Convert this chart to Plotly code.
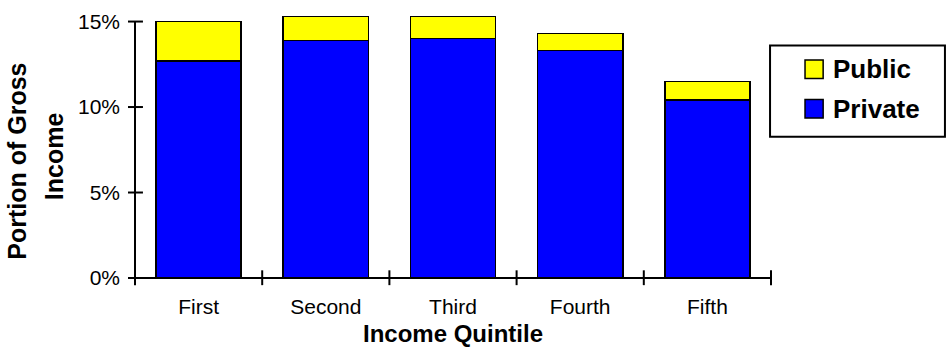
import plotly.graph_objects as go

# Income quintiles and the share of gross income, in percent
quintiles = ["First", "Second", "Third", "Fourth", "Fifth"]
private_share = [12.7, 13.9, 14.0, 13.3, 10.4]
public_share = [2.3, 1.4, 1.3, 1.0, 1.1]
y_ticks = [0, 5, 10, 15]
y_tick_text = ["0%", "5%", "10%", "15%"]

Y_RANGE = [0, 15.5]
BLUE = "#0000FF"
YELLOW = "#FFFF00"
FONT = "Liberation Sans, Arial, sans-serif"

fig = go.Figure()
fig.add_trace(go.Bar(
    x=quintiles, y=private_share, name="Private",
    marker=dict(color=BLUE, line=dict(color="black", width=1.6)),
))
fig.add_trace(go.Bar(
    x=quintiles, y=public_share, name="Public",
    marker=dict(color=YELLOW, line=dict(color="black", width=1.6)),
))


def ypaper(v):
    return (v - Y_RANGE[0]) / (Y_RANGE[1] - Y_RANGE[0])


shapes = []
# vertical axis line up to the top tick, with ticks crossing it
shapes.append(dict(type="line", xref="paper", yref="paper",
                   x0=0, x1=0, y0=ypaper(0), y1=ypaper(max(y_ticks)),
                   line=dict(color="black", width=2)))
for t in y_ticks:
    shapes.append(dict(type="line", xref="paper", yref="paper",
                       x0=-0.011, x1=0.0125, y0=ypaper(t), y1=ypaper(t),
                       line=dict(color="black", width=2)))
# horizontal axis line with ticks on category boundaries
shapes.append(dict(type="line", xref="paper", yref="paper",
                   x0=-0.011, x1=1.0, y0=0, y1=0,
                   line=dict(color="black", width=2)))
n = len(quintiles)
for i in range(n + 1):
    shapes.append(dict(type="line", xref="paper", yref="paper",
                       x0=i / n, x1=i / n, y0=-0.027, y1=0.029,
                       line=dict(color="black", width=2)))

# legend box with swatches
shapes.append(dict(type="rect", xref="paper", yref="paper",
                   x0=0.9985, x1=1.2735, y0=0.533, y1=0.877,
                   line=dict(color="black", width=2), fillcolor="white"))
shapes.append(dict(type="rect", xref="paper", yref="paper",
                   x0=1.0535, x1=1.082, y0=0.7525, y1=0.823,
                   line=dict(color="black", width=1.5), fillcolor=YELLOW))
shapes.append(dict(type="rect", xref="paper", yref="paper",
                   x0=1.0535, x1=1.082, y0=0.6035, y1=0.674,
                   line=dict(color="black", width=1.5), fillcolor=BLUE))

annotations = [
    dict(text="<b>Public</b>", xref="paper", yref="paper", x=1.095, y=0.788,
         xanchor="left", yanchor="middle", showarrow=False,
         font=dict(family=FONT, size=26, color="black")),
    dict(text="<b>Private</b>", xref="paper", yref="paper", x=1.095, y=0.639,
         xanchor="left", yanchor="middle", showarrow=False,
         font=dict(family=FONT, size=26, color="black")),
    dict(text="<b>Income Quintile</b>", xref="paper", yref="paper",
         x=0.5, y=-0.208, xanchor="center", yanchor="middle", showarrow=False,
         font=dict(family=FONT, size=24, color="black")),
    dict(text="<b>Portion of Gross</b>", xref="paper", yref="paper",
         x=-0.185, y=0.44, xanchor="center", yanchor="middle", showarrow=False,
         textangle=-90, font=dict(family=FONT, size=25, color="black")),
    dict(text="<b>Income</b>", xref="paper", yref="paper",
         x=-0.128, y=0.458, xanchor="center", yanchor="middle", showarrow=False,
         textangle=-90, font=dict(family=FONT, size=25, color="black")),
]

fig.update_layout(
    barmode="stack",
    bargap=0.33,
    width=948, height=347,
    margin=dict(l=135, r=177, t=10, b=69),
    paper_bgcolor="white", plot_bgcolor="white",
    showlegend=False,
    font=dict(family=FONT, size=21, color="black"),
    shapes=shapes,
    annotations=annotations,
    xaxis=dict(
        range=[-0.5, n - 0.5], showline=False, showgrid=False, zeroline=False,
        ticks="", ticklabelstandoff=14, tickfont=dict(size=21),
    ),
    yaxis=dict(
        range=Y_RANGE, tickvals=y_ticks, ticktext=y_tick_text,
        showline=False, showgrid=False, zeroline=False,
        ticks="", ticklabelstandoff=14, tickfont=dict(size=21),
    ),
)

fig.write_html("out.html")
